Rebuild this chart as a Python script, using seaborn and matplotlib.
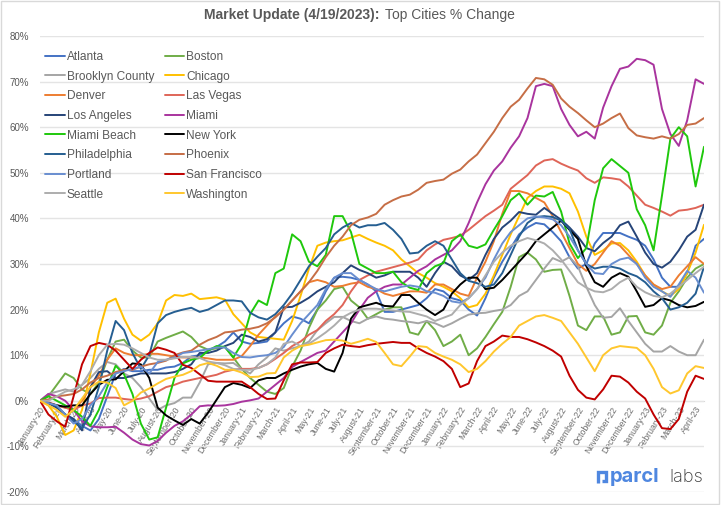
import matplotlib
matplotlib.use("Agg")
import matplotlib.pyplot as plt
from matplotlib.lines import Line2D
from matplotlib.patches import Rectangle
import numpy as np
import pandas as pd
import seaborn as sns

month_labels = ["January-20","February-20","March-20","April-20","May-20","June-20","July-20","August-20",
    "September-20","October-20","November-20","December-20","January-21","February-21","March-21","April-21",
    "May-21","June-21","July-21","August-21","September-21","October-21","November-21","December-21",
    "January-22","February-22","March-22","April-22","May-22","June-22","July-22","August-22",
    "September-22","October-22","November-22","December-22","January-23","February-23","March-23","April-23"]

# percent change at two readings per month
atlanta = [0,-0.5,-1.5,-3,-4,-5.5,-6.5,-4,1,6, 7,6.5,6.5,6.8,6.8,7.3,7.5,8.3,9.7,10,
    11,11.8,13,15,13,12.5,12.7,13,15,17, 18.5,18,17,20,24,27,27.2,27,26.5,25.5,
    24,19.5,19.5,20,20.5,21,22.5,24.5,24,22.5, 22,20,18.7,22.5,27,30.5,33.5,36.5,38,39,
    38.7,37,35,31.5,29,30,34.5,36.8,36.8,36.8, 36,35.3,34,31,27,25,25,28,34,35.5]
boston = [0,1,3.5,6,5,2.5,1.5,4,9,13, 13.4,11,9.5,9.5,13,13.8,14.5,15.2,14,12,
    11.2,11.5,11.8,9.5,7,5,3.5,2,1.5,2.8, 7.5,11,16,20,22,24.5,25,22,20.5,18,
    19,20,20.5,20.5,15,14.5,17.5,15.5,12,13, 14.5,10,11.5,14,16.8,19.5,25,31.5,32.5,31,
    28.3,28.7,28.8,23,16.5,15.5,18.5,18.5,14.5,15, 18.5,18.6,15,14.5,16.5,21.5,24,27,29,30]
brooklyn = [0,1.5,2,2.5,2,3.5,5,7,8.5,8, 6,5,3,0.5,-2,-1,-0.5,0.7,0.7,4,
    8,8.3,8.2,8.3,7,6,8,9.5,11.5,11, 11.5,12,13,15.5,17,18.4,18.4,17.5,17,18,
    18.5,18,17.8,17.5,17.3,17,17.5,17,16.2,17, 18,18.9,19.2,19.3,19.7,20,21,23,24,26.5,
    29,31.3,30.5,31.5,29.5,25,21,18.2,18.4,20.3, 17.5,15,12.5,10.8,10.8,12,10.8,10,10,13.4]
chicago = [0,-1,-3.5,-7.5,-6.5,-2,6,15,21.5,22.4, 18,14.5,13.2,14.5,17,22,23.2,23,23.5,22.3,
    22.5,22.7,22.2,19,17,15,14,13.8,13.6,13.4, 17.5,23,29,34,34.7,35,35.2,35.8,36.4,35.5,
    34.7,34,33,31,29.5,28,27,25.8,25,24, 22.5,20.5,21,23.5,27.5,32,36.5,40.5,44.5,46,
    47,47,46.5,45.5,41.5,36,32,33,34.5,34.6, 33,30.5,27.5,25.5,24,23,24.5,28,32.5,38.6]
denver = [0,-0.5,-1,-1.5,-2,0,3,5.5,9,11.5, 10.5,10,10,10.3,10.3,10,9.7,9.5,9.5,9.5,
    9.3,9,9,9,9.8,12,14.5,16.5,18.5,20, 22,24,26,26.5,26,25,25.2,25.7,26,25,
    24.5,23.5,23,23.5,24,24,23.7,25.5,25.5,24.5, 23.5,23,27,30.5,35,41,46,46,45.5,44.5,
    43.5,40.5,37,33.5,30,28.5,30,32.5,35,34, 32,30,27.5,25.5,24.5,25,27.5,29.5,31.5,30]
las_vegas = [0,-0.3,-1,-1.5,-2,-1,-0.6,0.6,0.7,0.7, 0.4,0.2,0.5,1,2,3,3.5,4.2,4.6,5,
    5.3,5.7,6.4,6.8,7,7,7.2,8,9.2,10.5, 12,13,14.5,15.5,17.5,19,21,24,26.5,27.5,
    28.3,28.8,29.3,29.8,30.3,31,33,34.3,35.3,35.7, 36.2,37.5,39,40.5,41.7,43,46.5,48,49.5,51.6,
    52.7,53,52,51.2,50.5,48.8,47.8,49,48.8,48.5, 47,45,43,42.3,41.5,40.6,41.7,41.9,42.3,43]
los_angeles = [0,-0.5,-1.5,-3,-4,-6.5,3,6.3,6.5,5, 5,5.5,6,6,6,6,6.3,7,8,10.5,
    10.5,11,12,12.7,14.5,14,13,13.5,15,20.5, 20.6,21.5,22.6,24,25,26,28,29.7,28.7,28,
    27,27.5,28.3,28.3,28.3,27,25,28,30.5,29.5, 27.5,26.5,28,32,35.5,38,39.5,41.4,41,40.8,
    42.3,41,39.7,38,36,33.5,32.8,34.6,36,38.5, 39.3,36,32.5,30,29.2,30.5,33,36,37.5,43]
miami = [0,1.5,1,0,-2,-4.5,-5.6,-5.8,-5.8,-5.7, -7,-8.5,-9.5,-9.8,-8.8,-7,-5.5,-4.5,-3,-1.2,
    -1,-1.1,-1,-0.7,-0.2,0.1,0.5,2,3.5,5, 7.4,8.5,9.5,10.5,11,13,15,17,20,22.6,
    24,25,25.5,25.5,27,28.5,29.5,31,32,33, 35,39,43.5,47.5,50.5,52.5,55.5,58,62,69,
    69.5,69,64,60.5,58,59,57.5,64.3,69,72.8, 73.3,75,74.7,73.7,64,58.5,55.9,61.5,70.5,69.5]
miami_beach = [0,1,0,-1,-2,-3.5,-5.5,-2,3,7.7, 5.8,1.5,-5,-8.5,-8,-1.5,5,8.2,9,9.4,
    11,12,11.8,9.5,12.5,19,22,21,28,29, 36.5,35,30.5,29.5,32,40.5,40.5,37,30,29,
    28,28,28.3,26,24.8,24.3,28,29.5,30.2,35, 36.5,34,33.5,34.3,37.5,40.5,44,45.5,43,45,
    44.8,45.8,41.5,34.5,31.3,33.5,44,51,53,51.5, 50,42,38.5,33,45,57.5,60,58,47,55.7]
new_york = [0,-0.5,-1,-1.3,-1,-1,1.5,3.5,4.6,4.7, 6.5,8.2,8,5,-1.5,-3.2,-4.3,-5.3,-4,-5,
    -2.6,0.2,3,3.9,3.5,2.8,4.5,5,5,6, 6.8,7.5,8,8.3,7,6.4,10.5,18,20.5,21,
    21.5,20.8,20.7,23.2,23.2,21.5,20,18.8,20,23.5, 25.5,27,27,24.5,24.8,26.5,28.5,30.5,32.5,35,
    36.5,38,39.5,37.5,35.5,29.5,26,25,27,28, 27.2,24,20.6,21,22.5,22,21,20.5,20.8,21.7]
philadelphia = [0,-0.5,-1.2,-3,-4.5,-6,-3,3,11,17.5, 15.5,10.5,7,10,17,18.8,19.5,20,20.4,19.5,
    20,21,22,22,21.8,19.3,18.3,17.8,19,21, 23.5,26.5,29.5,31.6,33.5,36.5,38,39,38,38.5,
    38.5,39,37.5,35.5,32.3,32.5,34,35,34,31, 28,26.3,25.8,25,25.5,28,32,36,39,40.3,
    40.5,40.3,39.5,37.7,33,30,29,29.4,29.4,29, 28,27.3,26,24,22.5,20,20.5,21.5,23.5,29.4]
phoenix = [0,0.3,1,1.2,1.5,2.5,4,5,5.5,6.3, 6.8,6.8,7.5,8,8.3,8.8,10,10.6,11,12.3,
    13.3,14,15,15.2,15.6,15.8,16.2,17,18.3,20, 22,24,26,28.5,31.5,34,36,38.5,39.7,40.2,
    41,43,44,44.8,45.2,46.3,47.8,48.2,48.5,49.8, 50.7,52.5,54,56.5,59,62,64.5,66,68.5,70.8,
    70.5,69.3,66.3,64.5,63.1,61.5,60,60.8,62,63, 59.8,58.2,57.8,57.5,58,57.5,58.5,60.5,60.8,62]
portland = [0,-0.5,-1,-3,-5,-4,-1,1,4,6, 6.5,7,7.5,6,8.5,9,9.5,10.5,10.7,11,
    11.3,11.7,11.7,10.5,9.6,9.5,9.8,10,10.5,11.8, 14.5,17,19,21,24.5,27,28,28,26.5,25.5,
    24.5,24,24.5,25,25.3,25,24,23.7,23,21.8, 21.5,22.5,24.5,27,31,34.5,37,38.5,40,40.4,
    40.2,39.8,38.5,36,33,30,28,27.8,30,31, 31.4,30,27,25,24,22.8,25.5,28.5,27,23.7]
san_francisco = [0,-3,-4.5,-5.7,1,8,12,12.7,12.3,11, 9,7,9,10.5,11.7,11.2,10.5,7.9,7.2,5.8,
    4.4,4.2,4.2,4.2,4.2,3,1.5,0.4,0.5,4.5, 8,8.4,8.4,8.5,10.5,11.5,12.3,12,11.8,12.2,
    12.5,12.7,12.9,12.7,12.7,11.5,10.5,9.7,8.7,7, 3,3.8,8.7,12,13,14.3,14,14,13.5,12.8,
    12,11,9.7,5.5,2.4,0.7,0.3,2.5,5.5,5.3, 4,2,0.5,-3,-6,-6.2,-4,2,5.5,4.8]
seattle = [0,0,1,2,2.5,3.5,6.5,10,12.3,12.5, 12.3,11.5,10.5,9.5,9,9,9.3,9.6,9.6,9.4,
    8.6,8.3,7.8,7,6.8,6.8,7.2,8,9.5,12.5, 13,12,12.5,13.7,15,16.5,18.3,19.3,20,20.2,
    20.2,20,19.8,19.6,19.5,19,18.5,17.5,18.2,18.9, 21,22.5,24.5,27.5,30.5,32.5,34,35,35.7,35.2,
    34.5,33,31,28.5,26,24.8,24,23.8,24.5,26, 27,25,23.8,23,22.7,23.5,25,26.5,28,29.4]
washington = [0,-1,-2,-3.5,-2,0.5,3,4.2,4,2.8, -1,0,1.8,2.7,3.8,4.8,5.3,5.7,6.5,7.8,
    8.3,7.7,6.8,6.8,6.2,5.2,5.3,6,6.1,9.5, 11,12,12.3,12.8,13.3,13.4,13.2,12.5,13,13.6,
    12.9,10.5,8,7.6,9.7,12,11.8,10.5,9.7,9, 8,6.3,7,8.7,10.8,12.5,14,16.5,17.5,18.5,
    18.8,18.2,17.5,15,12.5,9.5,6.5,10,11.5,12, 11.8,11.6,10,7,3,1.6,2.3,6,7.6,7.2]

cities = ["Atlanta","Boston","Brooklyn County","Chicago","Denver","Las Vegas","Los Angeles","Miami",
          "Miami Beach","New York","Philadelphia","Phoenix","Portland","San Francisco","Seattle","Washington"]
values = [atlanta,boston,brooklyn,chicago,denver,las_vegas,los_angeles,miami,
          miami_beach,new_york,philadelphia,phoenix,portland,san_francisco,seattle,washington]
colors = ["#4472C4","#70AD47","#A5A5A5","#FFC000","#ED7D31","#DF6558","#264478","#A9349E",
          "#1FC80C","#000000","#255E91","#C66E46","#698ED0","#C00000","#ADADAD","#FFC72E"]

df = pd.concat([pd.DataFrame({"step": np.arange(len(v)), "pct": v, "city": c}) for c, v in zip(cities, values)])

W, H = 721, 505
fig = plt.figure(figsize=(W/100, H/100), dpi=100, facecolor="white")
ax = fig.add_axes([40/W, 1-492/H, (704-40)/W, (492-36)/H])
sns.set_style("white")
FONT = "Liberation Sans"
GREY = "#595959"

sns.lineplot(data=df, x="step", y="pct", hue="city", hue_order=cities, palette=colors,
             linewidth=1.4, estimator=None, sort=False, ax=ax, legend=True)

ax.set_xlim(0, 79)
ax.set_ylim(-20, 80)
ax.set_xlabel(""); ax.set_ylabel("")
yt = np.arange(-20, 81, 10)
ax.set_yticks(yt)
ax.set_yticklabels([f"{y}%" for y in yt], fontsize=7, color=GREY, family=FONT)
ax.grid(axis="y", color="#E4E4E4", linewidth=1)
ax.grid(axis="x", visible=False)
ax.set_axisbelow(True)
for s in ("top", "left", "right"):
    ax.spines[s].set_visible(False)
ax.spines["bottom"].set_position(("data", 0))
ax.spines["bottom"].set_color("#D9D9D9")
ax.spines["bottom"].set_zorder(0.5)
ax.set_xticks(np.arange(len(month_labels))*2)
ax.set_xticklabels(month_labels, rotation=58, ha="right", rotation_mode="anchor",
                   fontsize=6.3, color="#6E6E6E", family=FONT)
ax.tick_params(axis="x", length=0, pad=3)
ax.tick_params(axis="y", length=0, pad=8)

h, l = ax.get_legend_handles_labels()
lookup = dict(zip(l, h))
col1 = cities[0::2]; col2 = cities[1::2]
order = col1 + col2
ax.legend([lookup[c] for c in order], order, ncol=2, frameon=False,
          loc="upper left", bbox_to_anchor=(45/W, 1-51/H), bbox_transform=fig.transFigure,
          borderaxespad=0, borderpad=0, handlelength=1.65, handletextpad=0.18,
          labelspacing=0.64, columnspacing=0.85,
          prop={"family": FONT, "size": 8.6}, labelcolor=GREY)

fig.text(380/W, 1-15/H, "Market Update (4/19/2023):", ha="right", va="center",
         family=FONT, fontsize=10, fontweight="bold", color=GREY)
fig.text(385/W, 1-15/H, "Top Cities % Change", ha="left", va="center",
         family=FONT, fontsize=10, color=GREY)

# logo
BLUE = "#4F87E0"
fig.text(610/W, 1-477/H, "parcl", ha="left", va="center", family="Inter", fontsize=14.5,
         fontweight="bold", color=BLUE)
fig.text(669/W, 1-477/H, "labs", ha="left", va="center", family="Inter", fontsize=13,
         fontweight="light", color="#3A3A3A")
fig.add_artist(Line2D(np.array([598, 598, 606, 606, 602])/W, 1-np.array([483, 472, 472, 481, 481])/H,
                      color=BLUE, linewidth=2.4, solid_joinstyle="miter", solid_capstyle="butt"))

fig.add_artist(Rectangle((1/W, 1-503.5/H), 718/W, 503/H, fill=False, edgecolor="#D9D9D9",
                         linewidth=1, transform=fig.transFigure))
fig.savefig("out.png", dpi=100)
